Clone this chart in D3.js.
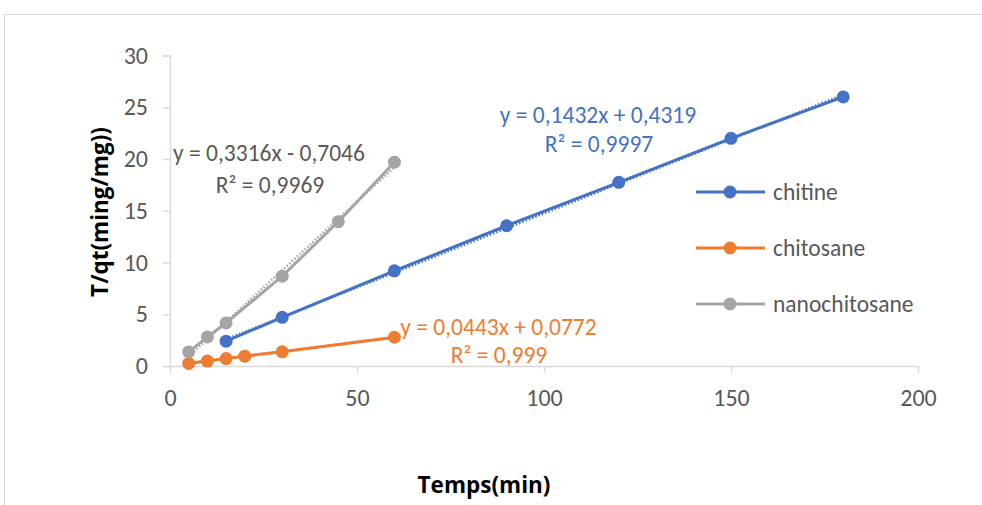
<!DOCTYPE html>
<html>
<head>
<meta charset="utf-8">
<script src="https://cdn.jsdelivr.net/npm/d3@7"></script>
<style>
  html, body { margin: 0; padding: 0; background: #fff; }
  svg { display: block; font-family: Carlito, Calibri, Lato, "Open Sans", sans-serif; }
</style>
</head>
<body>
<svg id="chart" width="982" height="505"></svg>
<script>
// Pseudo-second-order kinetics: t/qt versus time for three sorbents
const seriesNames = ["chitine", "chitosane", "nanochitosane"];
const chitineX = [15, 30, 60, 90, 120, 150, 180];
const chitineY = [2.4, 4.7, 9.2, 13.55, 17.75, 22.0, 26.0];
const chitosaneX = [5, 10, 15, 20, 30, 60];
const chitosaneY = [0.25, 0.48, 0.72, 0.95, 1.37, 2.78];
const nanoX = [5, 10, 15, 30, 45, 60];
const nanoY = [1.36, 2.81, 4.16, 8.68, 13.94, 19.69];
const slopes = [0.1432, 0.0443, 0.3316];
const intercepts = [0.4319, 0.0772, -0.7046];
const equationLabels = ["y = 0,1432x + 0,4319", "y = 0,0443x + 0,0772", "y = 0,3316x - 0,7046"];
const r2Labels = ["R² = 0,9997", "R² = 0,999", "R² = 0,9969"];
const xTicks = [0, 50, 100, 150, 200];
const yTicks = [0, 5, 10, 15, 20, 25, 30];
const colors = ["#4472C4", "#ED7D31", "#A5A5A5"];

const svg = d3.select("#chart");
const x = d3.scaleLinear().domain([0, 200]).range([170, 918]);
const y = d3.scaleLinear().domain([0, 30]).range([366, 55.5]);
const axisColor = "#D9D9D9";
const textColor = "#595959";
const bodyFont = "Carlito, Calibri, Lato, sans-serif";
const titleFont = "'Open Sans', sans-serif";

// chart frame
svg.append("rect").attr("x", 4.5).attr("y", 14.5).attr("width", 1000).attr("height", 600)
  .attr("fill", "none").attr("stroke", axisColor).attr("stroke-width", 1);

// y axis
const yAxis = svg.append("g").attr("transform", `translate(${x(0)},0)`)
  .call(d3.axisLeft(y).tickValues(yTicks).tickSize(7).tickPadding(15));
// x axis
const xAxis = svg.append("g").attr("transform", `translate(0,${y(0)})`)
  .call(d3.axisBottom(x).tickValues(xTicks).tickSize(7).tickPadding(16));
[yAxis, xAxis].forEach(g => {
  g.select(".domain").attr("stroke", axisColor).attr("stroke-width", 1.3);
  g.selectAll(".tick line").attr("stroke", axisColor).attr("stroke-width", 1.3);
  g.selectAll(".tick text").attr("fill", textColor).attr("font-size", 24)
    .attr("font-family", bodyFont);
});

// axis titles
svg.append("text").attr("transform", "translate(108,212) rotate(-90)")
  .attr("text-anchor", "middle").attr("font-weight", "bold").attr("font-size", 22.5)
  .attr("font-family", titleFont).attr("fill", "#000").text("T/qt(ming/mg))");
svg.append("text").attr("x", 484).attr("y", 493)
  .attr("text-anchor", "middle").attr("font-weight", "bold").attr("font-size", 22.5)
  .attr("font-family", titleFont).attr("fill", "#000").text("Temps(min)");

const series = [
  { xs: chitineX, ys: chitineY },
  { xs: chitosaneX, ys: chitosaneY },
  { xs: nanoX, ys: nanoY }
];

const line = d3.line().x(d => x(d[0])).y(d => y(d[1]));

// linear trend lines (dotted)
series.forEach((s, i) => {
  const x0 = d3.min(s.xs), x1 = d3.max(s.xs);
  const pts = [[x0, slopes[i] * x0 + intercepts[i]], [x1, slopes[i] * x1 + intercepts[i]]];
  svg.append("path").attr("d", line(pts)).attr("fill", "none")
    .attr("stroke", colors[i]).attr("stroke-width", 2.5).attr("stroke-dasharray", "1.5,2");
});

// series lines and markers
series.forEach((s, i) => {
  const pts = s.xs.map((v, k) => [v, s.ys[k]]);
  svg.append("path").attr("d", line(pts)).attr("fill", "none")
    .attr("stroke", colors[i]).attr("stroke-width", 3).attr("stroke-linejoin", "round");
  svg.append("g").selectAll("circle").data(pts).join("circle")
    .attr("cx", d => x(d[0])).attr("cy", d => y(d[1])).attr("r", 6.5)
    .attr("fill", colors[i]);
});

// trend line equations
const eqPos = [[598, 123, 599, 152], [498.5, 335, 499, 363], [269, 161, 270, 193]];
eqPos.forEach((p, i) => {
  const fill = i === 2 ? textColor : colors[i];
  svg.append("text").attr("x", p[0]).attr("y", p[1]).attr("text-anchor", "middle")
    .attr("font-size", 23.5).attr("fill", fill).text(equationLabels[i]);
  svg.append("text").attr("x", p[2]).attr("y", p[3]).attr("text-anchor", "middle")
    .attr("font-size", 23.5).attr("fill", fill).text(r2Labels[i]);
});

// legend
const legend = svg.append("g");
seriesNames.forEach((name, i) => {
  const ly = 192 + i * 56;
  legend.append("line").attr("x1", 696).attr("x2", 765).attr("y1", ly).attr("y2", ly)
    .attr("stroke", colors[i]).attr("stroke-width", 3);
  legend.append("circle").attr("cx", 730).attr("cy", ly).attr("r", 6.5).attr("fill", colors[i]);
  legend.append("text").attr("x", 773).attr("y", ly + 8).attr("font-size", 23.5)
    .attr("fill", textColor).text(name);
});
</script>
</body>
</html>
